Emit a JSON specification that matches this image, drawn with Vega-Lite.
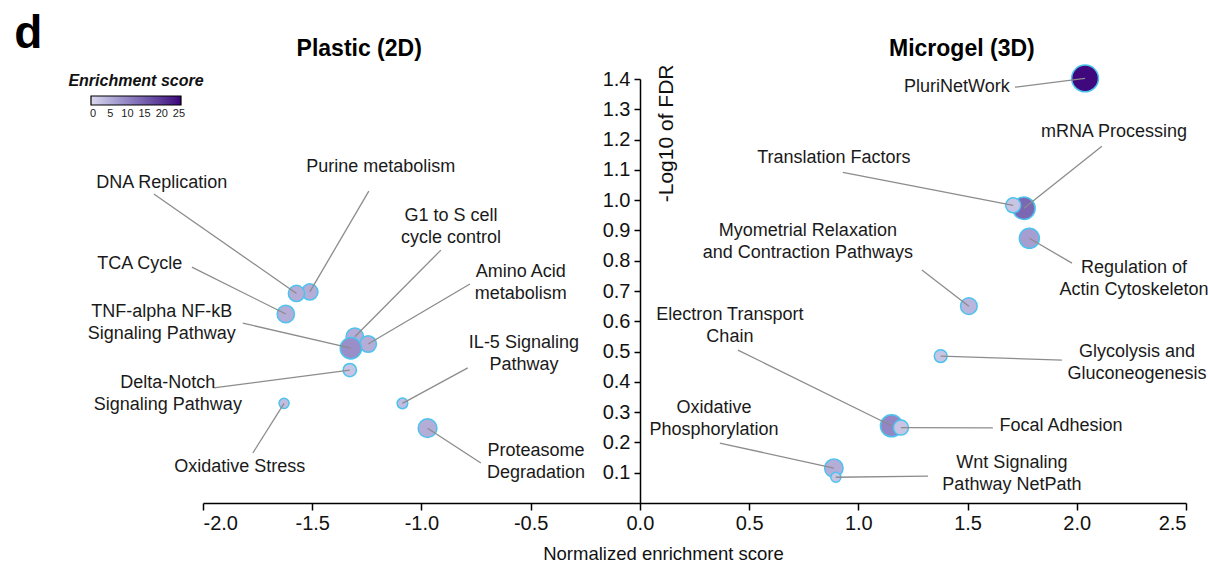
{
  "$schema": "https://vega.github.io/schema/vega-lite/v6.json",
  "width": 983,
  "height": 424,
  "autosize": {"type": "none"},
  "padding": {"left": 203, "top": 79, "right": 22, "bottom": 60},
  "background": "white",
  "config": {
    "view": {"stroke": null},
    "font": "Liberation Sans",
    "axis": {"grid": false, "labelOverlap": false, "domainColor": "#000", "tickColor": "#000", "labelColor": "#111", "titleColor": "#111", "labelFont": "Liberation Sans", "titleFont": "Liberation Sans", "titleFontWeight": "normal"}
  },
  "data": {
    "values": [
      {"name": "Purine metabolism", "nes": -1.511, "fdr": 0.697, "score": 5, "n": 21, "label": "Purine metabolism", "tx": -1.186, "ty": 1.109, "lx": -1.241, "ly": 1.03},
      {"name": "DNA Replication", "nes": -1.572, "fdr": 0.692, "score": 5, "n": 21, "label": "DNA Replication", "tx": -2.189, "ty": 1.056, "lx": -2.225, "ly": 1.02},
      {"name": "TCA Cycle", "nes": -1.621, "fdr": 0.624, "score": 5, "n": 24, "label": "TCA Cycle", "tx": -2.289, "ty": 0.789, "lx": -2.051, "ly": 0.779},
      {"name": "G1 to S cell cycle control", "nes": -1.305, "fdr": 0.549, "score": 5, "n": 24, "label": "G1 to S cell\ncycle control", "tx": -0.865, "ty": 0.947, "lx": -0.911, "ly": 0.835},
      {"name": "Amino Acid metabolism", "nes": -1.244, "fdr": 0.525, "score": 5, "n": 22, "label": "Amino Acid\nmetabolism", "tx": -0.545, "ty": 0.762, "lx": -0.778, "ly": 0.723},
      {"name": "TNF-alpha NF-kB Signaling Pathway", "nes": -1.323, "fdr": 0.511, "score": 9, "n": 36, "label": "TNF-alpha NF-kB\nSignaling Pathway", "tx": -2.189, "ty": 0.63, "lx": -1.818, "ly": 0.594},
      {"name": "Delta-Notch Signaling Pathway", "nes": -1.328, "fdr": 0.439, "score": 2, "n": 14, "label": "Delta-Notch\nSignaling Pathway", "tx": -2.161, "ty": 0.396, "lx": -1.951, "ly": 0.38},
      {"name": "Oxidative Stress", "nes": -1.629, "fdr": 0.329, "score": 3, "n": 8, "label": "Oxidative Stress", "tx": -1.832, "ty": 0.119, "lx": -1.772, "ly": 0.165},
      {"name": "IL-5 Signaling Pathway", "nes": -1.087, "fdr": 0.329, "score": 3, "n": 9, "label": "IL-5 Signaling\nPathway", "tx": -0.531, "ty": 0.528, "lx": -0.788, "ly": 0.446},
      {"name": "Proteasome Degradation", "nes": -0.972, "fdr": 0.247, "score": 5, "n": 28, "label": "Proteasome\nDegradation", "tx": -0.476, "ty": 0.171, "lx": -0.728, "ly": 0.132},
      {"name": "PluriNetWork", "nes": 2.038, "fdr": 1.402, "score": 25, "n": 57, "label": "PluriNetWork", "tx": 1.451, "ty": 1.373, "lx": 1.717, "ly": 1.373},
      {"name": "mRNA Processing", "nes": 1.758, "fdr": 0.973, "score": 14, "n": 40, "label": "mRNA Processing", "tx": 2.17, "ty": 1.224, "lx": 2.115, "ly": 1.178},
      {"name": "Translation Factors", "nes": 1.709, "fdr": 0.983, "score": 2, "n": 18, "label": "Translation Factors", "tx": 0.888, "ty": 1.139, "lx": 0.929, "ly": 1.092},
      {"name": "Regulation of Actin Cytoskeleton", "nes": 1.783, "fdr": 0.874, "score": 7, "n": 32, "label": "Regulation of\nActin Cytoskeleton", "tx": 2.262, "ty": 0.775, "lx": 1.978, "ly": 0.792},
      {"name": "Myometrial Relaxation and Contraction Pathways", "nes": 1.506, "fdr": 0.65, "score": 4, "n": 22, "label": "Myometrial Relaxation\nand Contraction Pathways", "tx": 0.769, "ty": 0.897, "lx": 1.291, "ly": 0.769},
      {"name": "Glycolysis and Gluconeogenesis", "nes": 1.377, "fdr": 0.485, "score": 2, "n": 13, "label": "Glycolysis and\nGluconeogenesis", "tx": 2.276, "ty": 0.498, "lx": 1.932, "ly": 0.472},
      {"name": "Electron Transport Chain", "nes": 1.152, "fdr": 0.255, "score": 10, "n": 39, "label": "Electron Transport\nChain", "tx": 0.412, "ty": 0.62, "lx": 0.449, "ly": 0.505},
      {"name": "Focal Adhesion", "nes": 1.195, "fdr": 0.249, "score": 2, "n": 18, "label": "Focal Adhesion", "tx": 1.928, "ty": 0.254, "lx": 1.616, "ly": 0.248},
      {"name": "Oxidative Phosphorylation", "nes": 0.888, "fdr": 0.115, "score": 5, "n": 27, "label": "Oxidative\nPhosphorylation", "tx": 0.339, "ty": 0.313, "lx": 0.366, "ly": 0.198},
      {"name": "Wnt Signaling Pathway NetPath", "nes": 0.897, "fdr": 0.085, "score": 2, "n": 8, "label": "Wnt Signaling\nPathway NetPath", "tx": 1.703, "ty": 0.132, "lx": 1.319, "ly": 0.089}
    ]
  },
  "layer": [
    {
      "mark": {"type": "circle", "opacity": 1, "stroke": "#4cc3ee", "strokeWidth": 1.5},
      "encoding": {
        "x": {"field": "nes", "type": "quantitative", "scale": {"domain": [-2, 2.5], "nice": false, "zero": false},
          "axis": {"title": "Normalized enrichment score", "values": [-2, -1.5, -1, -0.5, 0, 0.5, 1, 1.5, 2, 2.5], "tickCount": 10, "labelExpr": "(datum.value < 0 ? '-' : '') + format(abs(datum.value), '.1f')", "labelFontSize": 20, "labelOverlap": false, "titleFontSize": 18.5, "tickSize": 7, "domainWidth": 1.5, "tickWidth": 1.5, "labelPadding": 3, "titleX": 460, "titleY": 50, "titleBaseline": "middle"}},
        "y": {"field": "fdr", "type": "quantitative", "scale": {"domain": [0, 1.4], "nice": false},
          "axis": {"title": "-Log10 of FDR", "values": [0.1, 0.2, 0.3, 0.4, 0.5, 0.6, 0.7, 0.8, 0.9, 1.0, 1.1, 1.2, 1.3, 1.4], "tickCount": 14, "format": ".1f", "offset": -437, "labelFontSize": 20, "labelOverlap": false, "titleFontSize": 21, "tickSize": 6, "domainWidth": 1.5, "tickWidth": 1.5, "labelPadding": 4, "titleX": 26, "titleY": -15, "titleAngle": -90, "titleAlign": "right", "titleBaseline": "middle"}},
        "color": {"field": "score", "type": "quantitative", "scale": {"domain": [-0.6, 25.6], "range": ["#dbdaee", "#3c007a"]},
          "legend": {"title": "Enrichment score", "orient": "none", "legendX": -135, "legendY": -6, "direction": "horizontal", "gradientLength": 90, "gradientThickness": 9, "values": [0, 5, 10, 15, 20, 25], "labelOverlap": false, "titleFontSize": 16, "titleFontStyle": "italic", "titleFontWeight": "bold", "titleColor": "#111", "labelFontSize": 11, "labelColor": "#222", "titleAnchor": "middle", "gradientStrokeColor": "#000", "gradientStrokeWidth": 1.2, "titlePadding": 7, "labelOffset": 3}},
        "size": {"field": "n", "type": "quantitative", "scale": {"domain": [0, 60], "range": [0, 755]}, "legend": null}
      }
    },
    {
      "mark": {"type": "rule", "color": "#8c8c8c", "strokeWidth": 1.3},
      "encoding": {
        "x": {"field": "lx", "type": "quantitative"},
        "y": {"field": "ly", "type": "quantitative"},
        "x2": {"field": "nes"},
        "y2": {"field": "fdr"}
      }
    },
    {
      "mark": {"type": "text", "fontSize": 18, "lineBreak": "\n", "lineHeight": 22, "align": "center", "baseline": "middle", "color": "#1a1a1a", "font": "Liberation Sans"},
      "encoding": {
        "x": {"field": "tx", "type": "quantitative"},
        "y": {"field": "ty", "type": "quantitative"},
        "text": {"field": "label"}
      }
    },
    {
      "data": {"values": [{"t": "d", "x": -2.80, "y": 1.502}]},
      "mark": {"type": "text", "fontSize": 46, "fontWeight": "bold", "align": "center", "baseline": "alphabetic", "color": "#000", "font": "Liberation Sans"},
      "encoding": {
        "x": {"field": "x", "type": "quantitative"},
        "y": {"field": "y", "type": "quantitative"},
        "text": {"field": "t"}
      }
    },
    {
      "data": {"values": [{"t": "Plastic (2D)", "x": -1.285, "y": 1.475}, {"t": "Microgel (3D)", "x": 1.474, "y": 1.475}]},
      "mark": {"type": "text", "fontSize": 23, "fontWeight": "bold", "align": "center", "baseline": "alphabetic", "color": "#000", "font": "Liberation Sans"},
      "encoding": {
        "x": {"field": "x", "type": "quantitative"},
        "y": {"field": "y", "type": "quantitative"},
        "text": {"field": "t"}
      }
    }
  ]
}
